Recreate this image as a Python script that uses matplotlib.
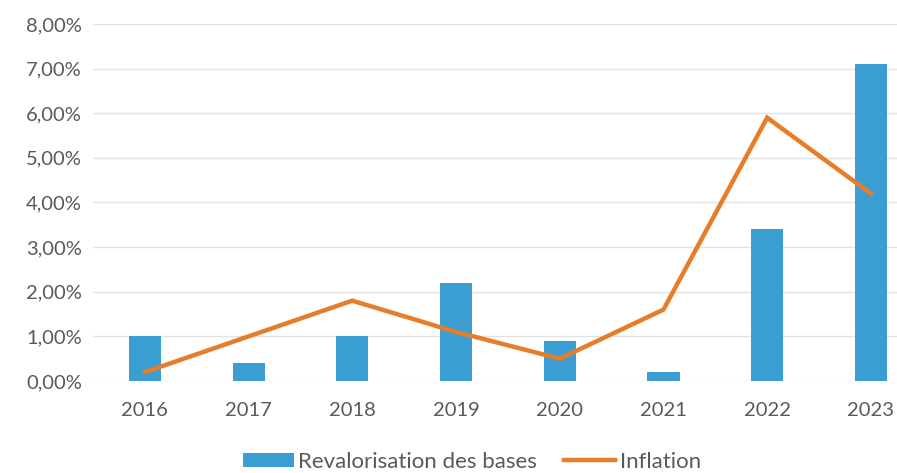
import matplotlib
matplotlib.use("Agg")
import matplotlib.pyplot as plt
from matplotlib.ticker import FuncFormatter

years = ["2016", "2017", "2018", "2019", "2020", "2021", "2022", "2023"]
revalorisation = [1.0, 0.4, 1.0, 2.2, 0.9, 0.2, 3.4, 7.1]
inflation = [0.2, 1.0, 1.8, 1.1, 0.5, 1.6, 5.9, 4.2]

plt.rcParams["font.family"] = ["Lato", "DejaVu Sans"]

fig = plt.figure(figsize=(8.97, 4.73), dpi=100)
ax = fig.add_axes([0.1037, 0.1945, 0.925, 0.7548])

x = list(range(len(years)))
bars = ax.bar(x, revalorisation, width=0.31, color="#3b9ed3",
              label="Revalorisation des bases", zorder=2)
line, = ax.plot(x, inflation, color="#e57d2a", linewidth=3.2, solid_joinstyle="miter",
                label="Inflation", zorder=3)

ax.set_xlim(-0.5, 7.5)
ax.set_ylim(0, 8)
ax.set_yticks(range(0, 9))
ax.yaxis.set_major_formatter(FuncFormatter(lambda v, p: f"{v:.2f}".replace(".", ",") + "%"))
ax.set_xticks(x)
ax.set_xticklabels(years)

for s in ax.spines.values():
    s.set_visible(False)
ax.tick_params(length=0, labelsize=14.5, colors="#595959")
ax.tick_params(axis="x", pad=15)
ax.tick_params(axis="y", pad=8)
ax.grid(axis="y", color="#e2e2e2", linewidth=1, zorder=0)
ax.set_axisbelow(True)

fig.legend([bars, line], ["Revalorisation des bases", "Inflation"],
           loc="lower center", bbox_to_anchor=(0.526, -0.04), ncol=2, frameon=False,
           fontsize=16, handlelength=2.3, handleheight=0.6, handletextpad=0.2,
           columnspacing=1.2, labelcolor="#595959")

fig.savefig("out.png", dpi=100)
